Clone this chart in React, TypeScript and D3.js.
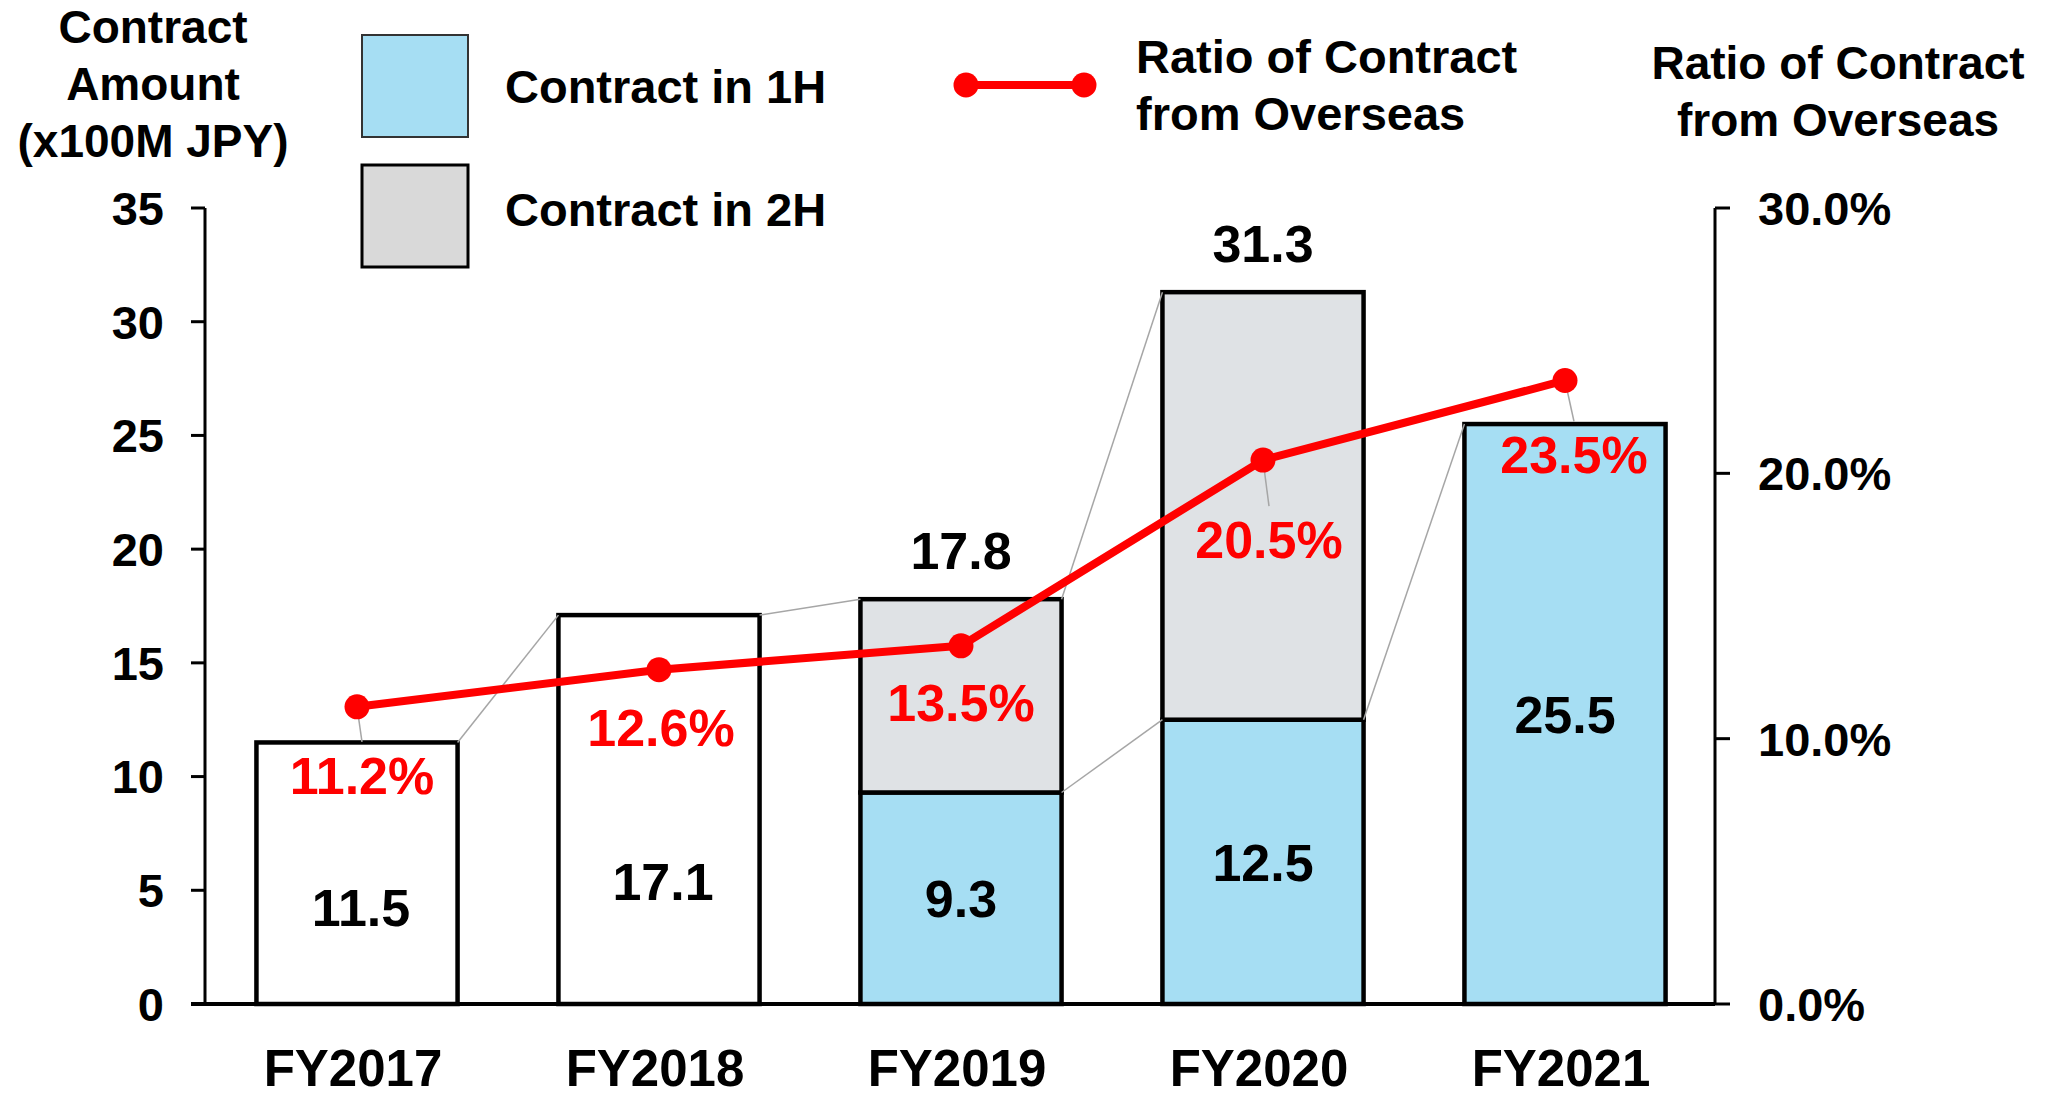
import React from 'react';
import * as d3 from 'd3';

// values
const fiscalYears = ['FY2017', 'FY2018', 'FY2019', 'FY2020', 'FY2021'];
const contractFullYear = [11.5, 17.1, null, null, null];
const contract1H = [null, null, 9.3, 12.5, 25.5];
const contract2H = [null, null, 8.5, 18.8, null];
const overseasRatio = [11.2, 12.6, 13.5, 20.5, 23.5];
const amountTicks = [0, 5, 10, 15, 20, 25, 30, 35];
const ratioTicks = [0, 10, 20, 30];

// hand placed label nudges (like the original deck)
const ratioLabelDx = [5, 2, 0, 6, 9];
const ratioLabelDy = [87, 76, 75, 98, 93];
const fullLabelDy = [34, 71, 0, 0, 0];

const W = 2055, H = 1099;
const FONT = '"Liberation Sans", Arial, sans-serif';
const BLUE = '#a6def3';
const GRAY = '#dfe2e5';
const RED = '#ff0000';

export default function App() {
  const x = d3.scaleBand<string>().domain(fiscalYears).range([206, 1716]).paddingInner(0.334).paddingOuter(0.167);
  const y = d3.scaleLinear().domain([0, 35]).range([1004, 208]);
  const y2 = d3.scaleLinear().domain([0, 30]).range([1004, 208]);
  const fmt = d3.format('.1f');
  const bw = x.bandwidth();

  const totals = fiscalYears.map((_, i) => (contractFullYear[i] ?? 0) + (contract1H[i] ?? 0) + (contract2H[i] ?? 0));

  // series lines between neighbouring bars
  const seriesLines: { x1: number; y1: number; x2: number; y2: number }[] = [];
  for (let i = 0; i < fiscalYears.length - 1; i++) {
    const xa = x(fiscalYears[i])! + bw, xb = x(fiscalYears[i + 1])!;
    if (contract1H[i] != null && contract1H[i + 1] != null) {
      seriesLines.push({ x1: xa, y1: y(contract1H[i]!), x2: xb, y2: y(contract1H[i + 1]!) });
    }
    if (!(contract2H[i] != null && contract2H[i + 1] == null)) {
      seriesLines.push({ x1: xa, y1: y(totals[i]), x2: xb, y2: y(totals[i + 1]) });
    }
  }

  const line = d3.line<number>()
    .x((_, i) => x(fiscalYears[i])! + bw / 2)
    .y(d => y2(d));

  return (
    <svg width={W} height={H} style={{ position: 'absolute', left: 0, top: 0, background: '#fff' }}
      fontFamily={FONT} fontWeight="bold">
      {/* left axis title */}
      <g fontSize={46} textAnchor="middle">
        <text x={153} y={43}>Contract</text>
        <text x={153} y={100}>Amount</text>
        <text x={153} y={157}>(x100M JPY)</text>
      </g>
      {/* right axis title */}
      <g fontSize={46} textAnchor="middle">
        <text x={1838} y={79}>Ratio of Contract</text>
        <text x={1838} y={136}>from Overseas</text>
      </g>

      {/* legend */}
      <rect x={362} y={35} width={106} height={102} fill={BLUE} stroke="#333" strokeWidth={2} />
      <rect x={362} y={165} width={106} height={102} fill="#d9d9d9" stroke="#000" strokeWidth={3} />
      <g fontSize={47}>
        <text x={505} y={103}>Contract in 1H</text>
        <text x={505} y={226}>Contract in 2H</text>
        <text x={1136} y={73}>Ratio of Contract</text>
        <text x={1136} y={130}>from Overseas</text>
      </g>
      <line x1={966} y1={85} x2={1084} y2={85} stroke={RED} strokeWidth={8} />
      <circle cx={966} cy={85} r={12.5} fill={RED} />
      <circle cx={1084} cy={85} r={12.5} fill={RED} />

      {/* bars */}
      {fiscalYears.map((fy, i) => {
        const x0 = x(fy)!;
        const segs: { lo: number; hi: number; fill: string }[] = [];
        if (contractFullYear[i] != null) segs.push({ lo: 0, hi: contractFullYear[i]!, fill: '#fff' });
        if (contract1H[i] != null) segs.push({ lo: 0, hi: contract1H[i]!, fill: BLUE });
        if (contract2H[i] != null) segs.push({ lo: contract1H[i] ?? 0, hi: (contract1H[i] ?? 0) + contract2H[i]!, fill: GRAY });
        return (
          <g key={fy}>
            {segs.map((s, k) => (
              <rect key={k} x={x0} y={y(s.hi)} width={bw} height={y(s.lo) - y(s.hi)}
                fill={s.fill} stroke="#000" strokeWidth={4.5} />
            ))}
          </g>
        );
      })}

      {seriesLines.map((l, k) => (
        <line key={k} {...l} stroke="#a6a6a6" strokeWidth={1.5} />
      ))}

      {/* axes */}
      <line x1={205} y1={208} x2={205} y2={1004} stroke="#000" strokeWidth={3} />
      <line x1={1715} y1={208} x2={1715} y2={1004} stroke="#000" strokeWidth={3} />
      <line x1={191} y1={1004} x2={1715} y2={1004} stroke="#000" strokeWidth={4} />
      {amountTicks.map(t => (
        <g key={t}>
          <line x1={191} x2={205} y1={y(t)} y2={y(t)} stroke="#000" strokeWidth={3} />
          <text x={164} y={y(t)} dy="0.36em" textAnchor="end" fontSize={47}>{t}</text>
        </g>
      ))}
      {ratioTicks.map(t => (
        <g key={t}>
          <line x1={1715} x2={1730} y1={y2(t)} y2={y2(t)} stroke="#000" strokeWidth={3} />
          <text x={1758} y={y2(t)} dy="0.36em" fontSize={47}>{fmt(t)}%</text>
        </g>
      ))}
      {fiscalYears.map(fy => (
        <text key={fy} x={x(fy)! + bw / 2 - 4} y={1086} textAnchor="middle" fontSize={51}>{fy}</text>
      ))}

      {/* amount labels */}
      <g fontSize={52} textAnchor="middle">
        {fiscalYears.map((fy, i) => {
          const cx = x(fy)! + bw / 2;
          const out: JSX.Element[] = [];
          if (contractFullYear[i] != null) {
            const v = contractFullYear[i]!;
            out.push(<text key="f" x={cx + 4} y={(y(0) + y(v)) / 2 + 19 + fullLabelDy[i]}>{fmt(v)}</text>);
          }
          if (contract1H[i] != null) {
            const v = contract1H[i]!;
            out.push(<text key="h" x={cx} y={(y(0) + y(v)) / 2 + 19}>{fmt(v)}</text>);
          }
          if (contract2H[i] != null) {
            out.push(<text key="t" x={cx} y={y(totals[i]) - 30}>{fmt(totals[i])}</text>);
          }
          return <g key={fy}>{out}</g>;
        })}
      </g>

      {/* overseas ratio line */}
      <path d={line(overseasRatio) ?? ''} fill="none" stroke={RED} strokeWidth={8} strokeLinejoin="round" />
      {overseasRatio.map((v, i) => {
        const cx = x(fiscalYears[i])! + bw / 2;
        const cy = y2(v);
        const lx = cx + ratioLabelDx[i];
        const ly = cy + ratioLabelDy[i];
        return (
          <g key={i}>
            {ratioLabelDy[i] > 80 && (
              <line x1={cx} y1={cy} x2={lx} y2={ly - 52} stroke="#a6a6a6" strokeWidth={1.5} />
            )}
            <circle cx={cx} cy={cy} r={12.5} fill={RED} />
            <text x={lx} y={ly} textAnchor="middle" fontSize={52} fill={RED}>{fmt(v)}%</text>
          </g>
        );
      })}
    </svg>
  );
}
